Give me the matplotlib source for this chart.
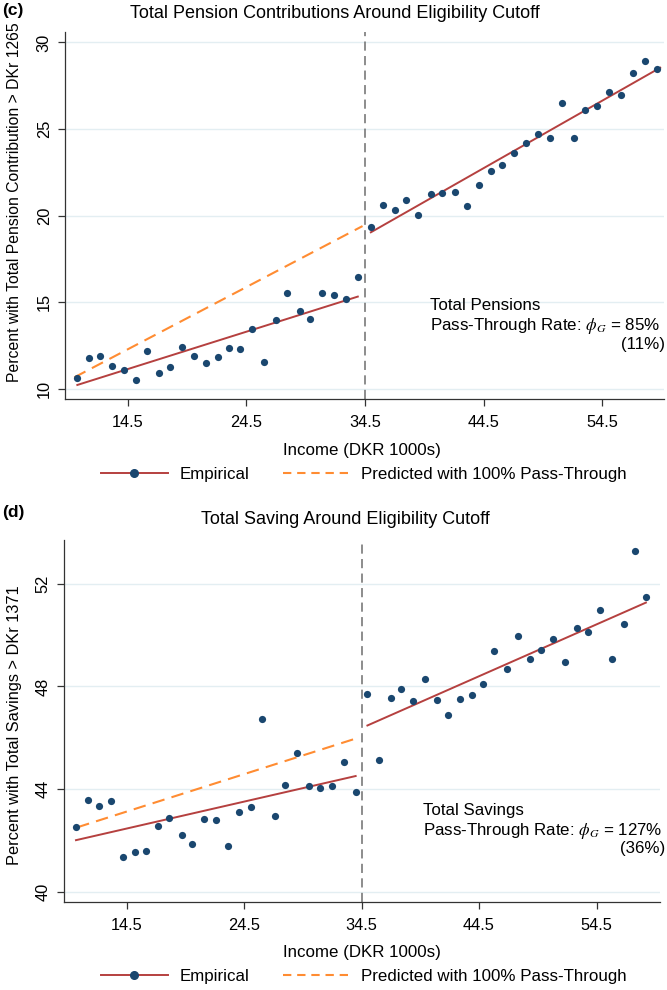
#!/usr/bin/env python3
"""Pass-through around the eligibility cutoff: pensions (c) and saving (d)."""

import matplotlib
matplotlib.use("Agg")
import matplotlib.pyplot as plt
import matplotlib.lines as mlines

plt.rcParams["font.family"] = ["Liberation Sans", "DejaVu Sans"]
plt.rcParams["mathtext.fontset"] = "stix"

NAVY = "#1a476f"
RED = "#b5403f"
ORANGE = "#ff8c32"
GRID = "#e3eef2"
FS = 12.2

CUTOFF = 34.5

# ── panel (c): total pension contributions ───────────────────────────────────
pen_x_left = [10.2, 11.2, 12.2, 13.2, 14.2, 15.2, 16.1, 17.1, 18.1, 19.1, 20.1,
              21.1, 22.1, 23.0, 24.0, 25.0, 26.0, 27.0, 27.9, 29.0, 29.9, 30.9,
              31.9, 32.9, 33.9]
pen_y_left = [10.62, 11.77, 11.90, 11.33, 11.08, 10.52, 12.19, 10.90, 11.29,
              12.44, 11.92, 11.52, 11.87, 12.35, 12.31, 13.46, 11.54, 14.00,
              15.54, 14.52, 14.06, 15.54, 15.42, 15.17, 16.46]
pen_x_right = [35.0, 36.0, 37.0, 38.0, 39.0, 40.1, 41.0, 42.1, 43.1, 44.1, 45.1,
               46.1, 47.1, 48.1, 49.1, 50.1, 51.1, 52.1, 53.1, 54.1, 55.1, 56.1,
               57.1, 58.1, 59.1]
pen_y_right = [19.35, 20.63, 20.33, 20.88, 20.04, 21.25, 21.29, 21.37, 20.58,
               21.79, 22.56, 22.90, 23.63, 24.21, 24.73, 24.48, 26.50, 24.48,
               26.12, 26.31, 27.12, 26.94, 28.21, 28.90, 28.44]
pen_fit_left = ([10.25, 33.9], [10.23, 15.33])
pen_fit_right = ([35.0, 59.4], [19.04, 28.54])
pen_pred = ([10.0, 34.3], [10.67, 19.40])

# ── panel (d): total saving ──────────────────────────────────────────────────
sav_x_left = [10.2, 11.2, 12.2, 13.2, 14.2, 15.2, 16.2, 17.2, 18.1, 19.2, 20.1,
              21.1, 22.1, 23.1, 24.1, 25.1, 26.0, 27.1, 28.0, 29.0, 30.0, 31.0,
              32.0, 33.0, 34.0]
sav_y_left = [42.53, 43.58, 43.34, 43.55, 41.34, 41.56, 41.57, 42.58, 42.87,
              42.21, 41.86, 42.83, 42.78, 41.79, 43.10, 43.30, 46.74, 42.97,
              44.16, 45.39, 44.13, 44.03, 44.13, 45.04, 43.90]
sav_x_right = [35.0, 36.0, 37.0, 37.9, 38.9, 39.9, 40.9, 41.9, 42.9, 43.9, 44.8,
               45.8, 46.9, 47.8, 48.8, 49.8, 50.8, 51.8, 52.8, 53.8, 54.8, 55.8,
               56.8, 57.8, 58.7]
sav_y_right = [47.71, 45.13, 47.55, 47.91, 47.43, 48.29, 47.48, 46.90, 47.51,
               47.68, 48.08, 49.40, 48.68, 49.97, 49.06, 49.43, 49.84, 48.95,
               50.27, 50.12, 50.99, 49.08, 50.45, 53.30, 51.49]
sav_fit_left = ([10.2, 34.0], [42.01, 44.51])
sav_fit_right = ([35.0, 58.7], [46.48, 51.27])
sav_pred = ([10.3, 33.8], [42.51, 45.94])

X_TICKS = [14.5, 24.5, 34.5, 44.5, 54.5]
X_TICK_LABELS = ["14.5", "24.5", "34.5", "44.5", "54.5"]

W, H = 667, 990


def fx(px):
    return px / W


def fy(py):
    return 1 - py / H


def px_axes(left, top, right, bottom):
    return [left / W, 1 - bottom / H, (right - left) / W, (bottom - top) / H]


def draw_panel(fig, box, xs, ys, fits, pred, yticks, ylim, xlim,
               note, note_pos, legend_y, xlabel_y):
    ax = fig.add_axes(px_axes(*box))
    for t in yticks:
        ax.axhline(t, color=GRID, linewidth=1.0, zorder=0)
    ax.axvline(CUTOFF, color="#6e6e6e", linestyle=(0, (6, 3.5)), linewidth=1.1,
               zorder=1)
    ax.plot(*pred, color=ORANGE, linestyle=(0, (6, 3.5)), linewidth=1.5, zorder=2)
    for lx, ly in fits:
        ax.plot(lx, ly, color=RED, linewidth=1.4, zorder=2)
    ax.scatter(xs, ys, s=27, color=NAVY, linewidths=0, zorder=3)

    ax.set_xlim(*xlim)
    ax.set_ylim(*ylim)
    ax.set_xticks(X_TICKS)
    ax.set_xticklabels(X_TICK_LABELS)
    ax.set_yticks(yticks)
    ax.set_yticklabels([str(t) for t in yticks], rotation=90, va="center")
    ax.tick_params(axis="x", direction="out", length=5, width=0.9,
                   color="#333333", labelsize=11.8, pad=6.5)
    ax.tick_params(axis="y", direction="out", length=5, width=0.9,
                   color="#333333", labelsize=11.8, pad=4.5)
    for side in ("top", "right"):
        ax.spines[side].set_visible(False)
    for side in ("left", "bottom"):
        ax.spines[side].set_color("#333333")
        ax.spines[side].set_linewidth(0.9)

    fig.text(fx(362), fy(xlabel_y), "Income (DKR 1000s)", fontsize=FS,
             ha="center", va="center")

    nx, ny, rx = note_pos
    fig.text(fx(nx), fy(ny[0]), note[0], fontsize=FS, ha="left", va="center")
    fig.text(fx(nx), fy(ny[1]), note[1], fontsize=FS, ha="left", va="center")
    fig.text(fx(rx), fy(ny[2]), note[2], fontsize=FS, ha="right", va="center")

    empirical = mlines.Line2D([], [], color=RED, linewidth=1.4, marker="o",
                              markersize=5.5, markerfacecolor=NAVY,
                              markeredgecolor=NAVY, label="Empirical")
    predicted = mlines.Line2D([], [], color=ORANGE, linewidth=1.5,
                              linestyle=(0, (4, 2.8)),
                              label="Predicted with 100% Pass-Through")
    fig.legend(handles=[empirical, predicted], loc="center",
               bbox_to_anchor=(fx(364), fy(legend_y)), ncol=2, frameon=False,
               fontsize=FS, numpoints=1, handlelength=3.9, columnspacing=2.0,
               handletextpad=0.7, borderaxespad=0, borderpad=0)
    return ax


fig = plt.figure(figsize=(W / 100, H / 100), dpi=100)

# panel (c)
draw_panel(
    fig, (65, 32, 664, 399),
    pen_x_left + pen_x_right, pen_y_left + pen_y_right,
    [pen_fit_left, pen_fit_right], pen_pred,
    [10, 15, 20, 25, 30], (9.42, 30.6), (9.21, 59.72),
    ["Total Pensions", r"Pass-Through Rate: $\phi_G$ = 85%", "(11%)"],
    (430, (305, 326, 345), 665),
    legend_y=474, xlabel_y=450,
)
fig.text(fx(335), fy(14), "Total Pension Contributions Around Eligibility Cutoff",
         ha="center", va="center", fontsize=13)
fig.text(fx(2), fy(11), "(c)", ha="left", va="center", fontsize=12.5,
         fontweight="bold")
fig.text(fx(15), fy(202), "Percent with Total Pension Contribution > DKr 1265",
         rotation=90, ha="center", va="center", fontsize=11.3)

# panel (d)
draw_panel(
    fig, (64, 540, 660, 902),
    sav_x_left + sav_x_right, sav_y_left + sav_y_right,
    [sav_fit_left, sav_fit_right], sav_pred,
    [40, 44, 48, 52], (39.6, 53.71), (9.18, 59.9),
    ["Total Savings", r"Pass-Through Rate: $\phi_G$ = 127%", "(36%)"],
    (423, (810, 831, 848), 665),
    legend_y=976, xlabel_y=952,
)
fig.text(fx(345), fy(519), "Total Saving Around Eligibility Cutoff",
         ha="center", va="center", fontsize=13)
fig.text(fx(2), fy(513), "(d)", ha="left", va="center", fontsize=12.5,
         fontweight="bold")
fig.text(fx(15), fy(725), "Percent with Total Savings > DKr 1371",
         rotation=90, ha="center", va="center", fontsize=11.8)

fig.savefig("out.png", dpi=100)
